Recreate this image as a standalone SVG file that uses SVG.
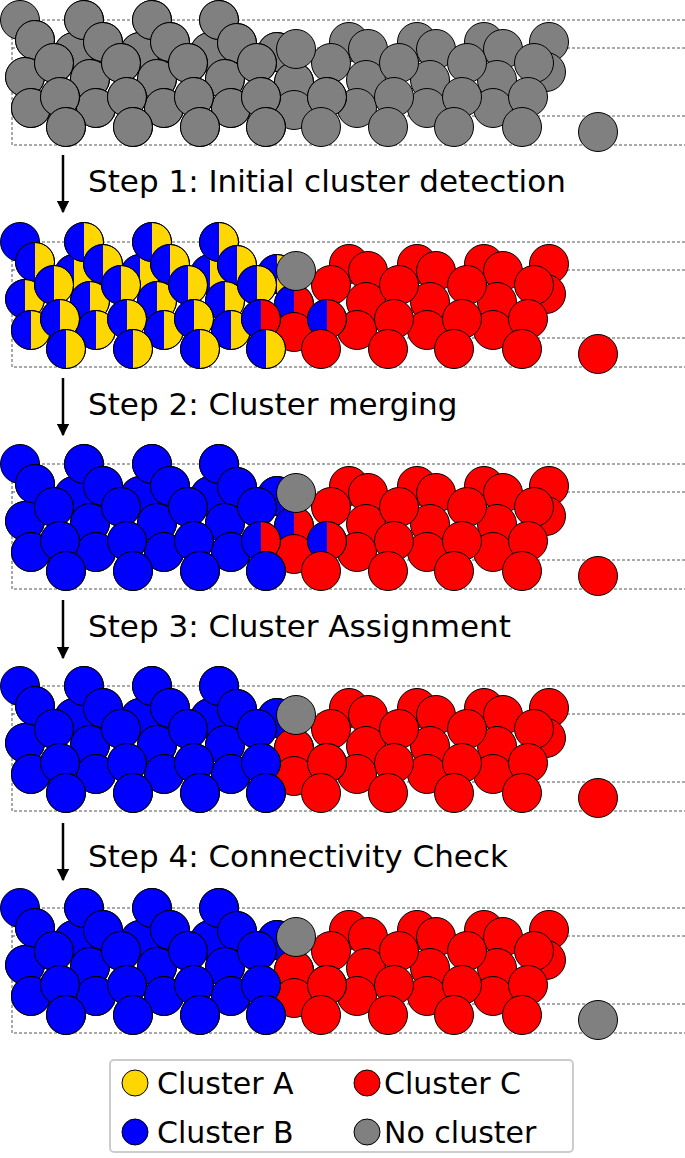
<svg xmlns="http://www.w3.org/2000/svg" xmlns:xlink="http://www.w3.org/1999/xlink" width="685" height="1158" viewBox="0 0 685 1158">
<style>
circle{stroke:#000;stroke-width:1}
.R{fill:var(--R)}
.T{fill:var(--T)}
.O{fill:var(--O)}
.gy{fill:#808080}
.dash{fill:none;stroke:#555;stroke-width:1;stroke-dasharray:3,2}
.step{font-family:"DejaVu Sans",sans-serif;font-size:31px;fill:#000}
.leg{font-family:"DejaVu Sans",sans-serif;font-size:30px;fill:#000}
.ar{stroke:#000;stroke-width:2.5;fill:none}
</style>
<defs>
<marker id="ah" viewBox="0 0 10 10" refX="9" refY="5" markerWidth="5" markerHeight="5" orient="auto"><path d="M0,0L10,5L0,10Z" fill="#000"/></marker>
<g id="lc"><circle r="19.5" style="fill:var(--Lr)"/><path d="M0,-19.5A19.5 19.5 0 0 0 0,19.5Z" style="fill:var(--Ll)"/><circle r="19.5" fill="none"/></g>
<g id="s1"><circle r="19.5" style="fill:var(--S1r)"/><path d="M0,-19.5A19.5 19.5 0 0 0 0,19.5Z" style="fill:var(--S1l)"/><circle r="19.5" fill="none"/></g>
<g id="s2"><circle r="19.5" style="fill:var(--S2r)"/><path d="M0,-19.5A19.5 19.5 0 0 0 0,19.5Z" style="fill:var(--S2l)"/><circle r="19.5" fill="none"/></g>
<g id="base">
<rect class="dash" x="12" y="20" width="700" height="125"/>
<line class="dash" x1="12" y1="48" x2="700" y2="48"/>
<line class="dash" x1="12" y1="116" x2="700" y2="116"/>
<use xlink:href="#lc" x="74" y="52"/><use xlink:href="#lc" x="140" y="52"/><use xlink:href="#lc" x="210" y="52"/><use xlink:href="#lc" x="277" y="52"/>
<circle class="R" cx="349" cy="42" r="19.5"/><circle class="R" cx="417" cy="42" r="19.5"/><circle class="R" cx="484" cy="42" r="19.5"/><circle class="R" cx="549" cy="42" r="19.5"/>
<circle class="R" cx="368" cy="49" r="19.5"/><circle class="R" cx="436" cy="49" r="19.5"/><circle class="R" cx="503" cy="49" r="19.5"/>
<circle class="T" cx="20" cy="20" r="19.5"/>
<use xlink:href="#lc" x="84" y="20"/><use xlink:href="#lc" x="152" y="20"/><use xlink:href="#lc" x="219" y="20"/>
<use xlink:href="#lc" x="35" y="40"/><use xlink:href="#lc" x="103" y="42"/><use xlink:href="#lc" x="170" y="42"/><use xlink:href="#lc" x="237" y="43"/>
<circle class="R" cx="546" cy="72" r="19.5"/>
<use xlink:href="#lc" x="25" y="77"/><use xlink:href="#lc" x="90" y="79"/><use xlink:href="#lc" x="157" y="79"/><use xlink:href="#lc" x="225" y="79"/>
<use xlink:href="#s2" x="294" y="82"/>
<circle class="R" cx="366" cy="80" r="19.5"/><circle class="R" cx="430" cy="80" r="19.5"/><circle class="R" cx="497" cy="80" r="19.5"/>
<use xlink:href="#lc" x="54" y="63"/><use xlink:href="#lc" x="121" y="63"/><use xlink:href="#lc" x="188" y="63"/><use xlink:href="#lc" x="257" y="63"/>
<circle class="R" cx="331" cy="63" r="19.5"/><circle class="R" cx="399" cy="63" r="19.5"/><circle class="R" cx="467" cy="63" r="19.5"/><circle class="R" cx="534" cy="63" r="19.5"/>
<use xlink:href="#lc" x="31" y="108"/><use xlink:href="#lc" x="96" y="108"/><use xlink:href="#lc" x="164" y="108"/><use xlink:href="#lc" x="231" y="108"/>
<circle class="R" cx="294" cy="110" r="19.5"/><circle class="R" cx="357" cy="108" r="19.5"/><circle class="R" cx="427" cy="108" r="19.5"/><circle class="R" cx="493" cy="108" r="19.5"/>
<use xlink:href="#lc" x="60" y="97"/><use xlink:href="#lc" x="127" y="97"/><use xlink:href="#lc" x="194" y="97"/>
<use xlink:href="#s1" x="261" y="97"/><use xlink:href="#s2" x="327" y="97"/>
<circle class="R" cx="394" cy="97" r="19.5"/><circle class="R" cx="462" cy="97" r="19.5"/><circle class="R" cx="528" cy="97" r="19.5"/>
<use xlink:href="#lc" x="66" y="127"/><use xlink:href="#lc" x="133" y="127"/><use xlink:href="#lc" x="200" y="127"/><use xlink:href="#lc" x="266" y="127"/>
<circle class="R" cx="321" cy="127" r="19.5"/><circle class="R" cx="388" cy="127" r="19.5"/><circle class="R" cx="454" cy="127" r="19.5"/><circle class="R" cx="522" cy="127" r="19.5"/>
<circle class="gy" cx="296" cy="49" r="19.5"/>
<circle class="O" cx="598" cy="132" r="19.5"/>
</g>
</defs>
<g id="panel1"><use xlink:href="#base" style="--R:#808080;--T:#808080;--O:#808080;--Ll:#808080;--Lr:#808080;--S1l:#808080;--S1r:#808080;--S2l:#808080;--S2r:#808080"/></g>
<g id="panel2"><use xlink:href="#base" y="222" style="--R:#f00;--T:#00f;--O:#f00;--Ll:#00f;--Lr:#ffd700;--S1l:#00f;--S1r:#f00;--S2l:#00f;--S2r:#f00"/></g>
<g id="panel3"><use xlink:href="#base" y="444" style="--R:#f00;--T:#00f;--O:#f00;--Ll:#00f;--Lr:#00f;--S1l:#00f;--S1r:#f00;--S2l:#00f;--S2r:#f00"/></g>
<g id="panel4"><use xlink:href="#base" y="666" style="--R:#f00;--T:#00f;--O:#f00;--Ll:#00f;--Lr:#00f;--S1l:#00f;--S1r:#00f;--S2l:#f00;--S2r:#f00"/></g>
<g id="panel5"><use xlink:href="#base" y="888" style="--R:#f00;--T:#00f;--O:#808080;--Ll:#00f;--Lr:#00f;--S1l:#00f;--S1r:#00f;--S2l:#f00;--S2r:#f00"/></g>
<g id="connectors">
<line class="ar" x1="63" y1="155" x2="63" y2="212" marker-end="url(#ah)"/>
<line class="ar" x1="63" y1="378" x2="63" y2="435" marker-end="url(#ah)"/>
<line class="ar" x1="63" y1="600" x2="63" y2="658" marker-end="url(#ah)"/>
<line class="ar" x1="63" y1="823" x2="63" y2="880" marker-end="url(#ah)"/>
</g>
<g id="labels">
<text class="step" x="88" y="192">Step 1: Initial cluster detection</text>
<text class="step" x="88" y="415">Step 2: Cluster merging</text>
<text class="step" x="88" y="637">Step 3: Cluster Assignment</text>
<text class="step" x="88" y="867">Step 4: Connectivity Check</text>
</g>
<g id="legend">
<rect x="110" y="1060" width="463" height="92" rx="4" fill="#fff" stroke="#ccc" stroke-width="2"/>
<circle cx="135" cy="1083" r="13" fill="#ffd700"/><text class="leg" x="157" y="1094">Cluster A</text>
<circle cx="367" cy="1083" r="13" fill="#f00"/><text class="leg" x="384" y="1094">Cluster C</text>
<circle cx="135" cy="1132" r="13" fill="#00f"/><text class="leg" x="157" y="1143">Cluster B</text>
<circle cx="367" cy="1132" r="13" fill="#808080"/><text class="leg" x="384" y="1143">No cluster</text>
</g>
</svg>
